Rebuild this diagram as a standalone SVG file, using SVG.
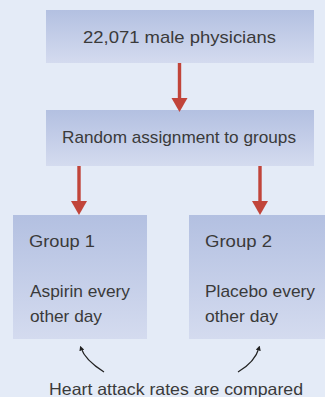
<svg xmlns="http://www.w3.org/2000/svg" width="325" height="397" viewBox="0 0 325 397">
<defs>
<linearGradient id="g" x1="0" y1="0" x2="0" y2="1">
<stop offset="0" stop-color="#b3c0e1"/>
<stop offset="1" stop-color="#d4dbef"/>
</linearGradient>
<marker id="ah" viewBox="0 0 10 10" refX="5" refY="5" markerWidth="5" markerHeight="5" orient="auto-start-reverse" markerUnits="userSpaceOnUse">
<path d="M0,0 L10,5 L0,10 Z" fill="#222"/>
</marker>
</defs>
<style>
.box{fill:url(#g);}
.t{font-family:"Liberation Sans",Arial,sans-serif;font-size:17px;fill:#3a3a3a;}
.s{font-size:16.5px;}
.red{fill:#c1443a;}
.curve{fill:none;stroke:#222;stroke-width:1.2;}
</style>
<rect x="0" y="0" width="325" height="397" fill="#e4ebf7"/>
<g id="node-physicians">
<rect class="box" x="46" y="10" width="268" height="53"/>
<text class="t" x="83" y="43" textLength="193" lengthAdjust="spacingAndGlyphs">22,071 male physicians</text>
</g>
<g id="node-random">
<rect class="box" x="46" y="110" width="268" height="56"/>
<text class="t" x="62" y="143" textLength="234" lengthAdjust="spacingAndGlyphs">Random assignment to groups</text>
</g>
<g id="node-group1">
<rect class="box" x="13" y="215" width="134" height="124"/>
<text class="t" x="29" y="247" textLength="66" lengthAdjust="spacingAndGlyphs">Group 1</text>
<text class="t" x="30" y="297" textLength="100" lengthAdjust="spacingAndGlyphs">Aspirin every</text>
<text class="t" x="30" y="322" textLength="72" lengthAdjust="spacingAndGlyphs">other day</text>
</g>
<g id="node-group2">
<rect class="box" x="189" y="215" width="136" height="124"/>
<text class="t" x="205" y="247" textLength="67" lengthAdjust="spacingAndGlyphs">Group 2</text>
<text class="t" x="205" y="297" textLength="110" lengthAdjust="spacingAndGlyphs">Placebo every</text>
<text class="t" x="205" y="322" textLength="73" lengthAdjust="spacingAndGlyphs">other day</text>
</g>
<g id="connectors">
<rect class="red" x="177.8" y="63" width="3.4" height="36"/>
<path class="red" d="M171.5,98 L187.5,98 L179.5,112 Z"/>
<rect class="red" x="77.3" y="166" width="3.4" height="36"/>
<path class="red" d="M71,201 L87,201 L79,215 Z"/>
<rect class="red" x="258.3" y="166" width="3.4" height="36"/>
<path class="red" d="M252,201 L268,201 L260,215 Z"/>
<path class="curve" d="M104,372 Q85,360 81,348" marker-end="url(#ah)"/>
<path class="curve" d="M238,372 Q255,362 259,348" marker-end="url(#ah)"/>
</g>
<text class="t s" x="49" y="394.5" textLength="254" lengthAdjust="spacingAndGlyphs">Heart attack rates are compared</text>
</svg>
